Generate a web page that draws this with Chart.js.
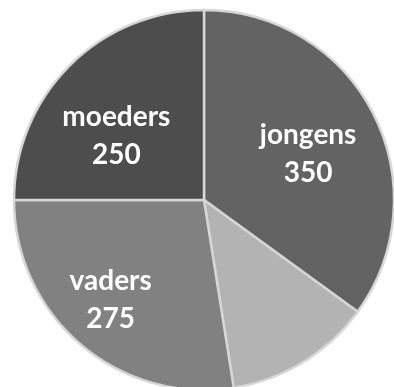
<!DOCTYPE html>
<html>
<head>
<meta charset="utf-8">
<script src="https://cdn.jsdelivr.net/npm/chart.js@4/dist/chart.umd.min.js"></script>
<style>
  html, body { margin: 0; padding: 0; background: #fff; overflow: hidden; }
  #wrap { position: absolute; left: 0; top: 0; width: 408px; height: 400px; }
</style>
</head>
<body>
<div id="wrap"><canvas id="pieChart" width="408" height="400"></canvas></div>
<script>
const categories = ["jongens", "", "vaders", "moeders"];
const counts = [350, 125, 275, 250];
const sliceColors = ["#636363", "#b3b3b3", "#818181", "#4d4d4d"];

// where each label sits: fraction of radius and angle nudge (degrees)
const labelRadius = [0.6, 0.6, 0.72, 0.57];
const labelTurn = [3, 0, 2.5, -9];

const sliceLabels = {
  id: "sliceLabels",
  afterDatasetsDraw(chart) {
    const ctx = chart.ctx;
    const meta = chart.getDatasetMeta(0);
    ctx.save();
    ctx.fillStyle = "#ffffff";
    ctx.font = "bold 28px Lato, 'Liberation Sans', sans-serif";
    ctx.textAlign = "center";
    ctx.textBaseline = "middle";
    meta.data.forEach((arc, i) => {
      if (!categories[i]) return;
      const { x, y, startAngle, endAngle, outerRadius } = arc.getProps(
        ["x", "y", "startAngle", "endAngle", "outerRadius"], true);
      const mid = (startAngle + endAngle) / 2 + labelTurn[i] * Math.PI / 180;
      const r = outerRadius * labelRadius[i];
      const cx = x + Math.cos(mid) * r;
      const cy = y + Math.sin(mid) * r;
      ctx.fillText(categories[i], cx, cy - 19);
      ctx.fillText(String(counts[i]), cx, cy + 19);
    });
    ctx.restore();
  }
};

new Chart(document.getElementById("pieChart").getContext("2d"), {
  type: "pie",
  data: {
    labels: categories,
    datasets: [{
      data: counts,
      backgroundColor: sliceColors,
      borderColor: "#d6d6d6",
      borderWidth: 2.5
    }]
  },
  options: {
    responsive: false,
    animation: false,
    radius: 190,
    layout: { padding: 0 },
    plugins: {
      legend: { display: false },
      tooltip: { enabled: false }
    }
  },
  plugins: [sliceLabels]
});
</script>
</body>
</html>
